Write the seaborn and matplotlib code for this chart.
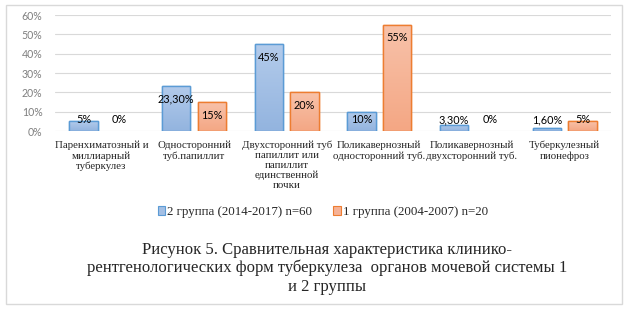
import matplotlib
matplotlib.use("Agg")
import matplotlib.pyplot as plt
import matplotlib.patches as mpatches
from matplotlib.colors import to_rgb
from matplotlib.ticker import FuncFormatter
import numpy as np
import pandas as pd
import seaborn as sns

# данные
categories = ["Паренхиматозный и\nмиллиарный\nтуберкулез",
              "Односторонний\nтуб.папиллит",
              "Двухсторонний туб\nпапиллит или\nпапиллит\nединственной\nпочки",
              "Поликавернозный\nодносторонний туб.",
              "Поликавернозный\nдвухсторонний туб.",
              "Туберкулезный\nпионефроз"]
group2 = [5, 23.3, 45, 10, 3.3, 1.6]
group1 = [0, 15, 20, 55, 0, 5]
series = ["2 группа (2014-2017) n=60", "1 группа (2004-2007) n=20"]
caption = ["Рисунок 5. Сравнительная характеристика клинико-",
           "рентгенологических форм туберкулеза  органов мочевой системы 1",
           "и 2 группы"]

df = pd.DataFrame({
    "cat": categories * 2,
    "val": group2 + group1,
    "grp": [series[0]] * len(group2) + [series[1]] * len(group1),
})

sns.set_style("white")
plt.rcParams["font.family"] = ["Liberation Serif", "DejaVu Serif"]

blue_fill, blue_edge = "#a3bfe4", "#5b9bd5"
orange_fill, orange_edge = "#f6b296", "#ed7d31"
# градиент сверху вниз
grads = [("#b3cbeb", "#93b4df"), ("#f8c2aa", "#f4a784")]

fig = plt.figure(figsize=(6.28, 3.09), dpi=100)
ax = fig.add_axes([55 / 628, 1 - 131 / 309, 556 / 628, 116 / 309])

sns.barplot(data=df, x="cat", y="val", hue="grp", hue_order=series,
            palette=[blue_fill, orange_fill], width=0.77, gap=0.2,
            ax=ax, legend=False, saturation=1)

edges = [blue_edge, orange_edge]
for cont, edge, vals, (c_top, c_bot) in zip(ax.containers, edges, [group2, group1], grads):
    t, b = np.array(to_rgb(c_top)), np.array(to_rgb(c_bot))
    img = np.linspace(t, b, 64).reshape(64, 1, 3)
    for bar, v in zip(cont, vals):
        bar.set_edgecolor(edge)
        bar.set_linewidth(1.0 if v > 0 else 0)
        if v > 0:
            x0, w = bar.get_x(), bar.get_width()
            im = ax.imshow(img, extent=[x0, x0 + w, 0, v], aspect="auto",
                           zorder=bar.get_zorder() + 0.1, interpolation="bilinear")
            im.set_clip_path(bar)
            ax.add_patch(mpatches.Rectangle((x0, 0), w, v, fill=False,
                                            edgecolor=edge, lw=1.0,
                                            zorder=bar.get_zorder() + 0.2))
        if float(v).is_integer():
            lab = "%d%%" % v
        else:
            lab = ("%.2f%%" % v).replace(".", ",")
        y = max(v - 6.8, 5.7)
        ax.text(bar.get_x() + bar.get_width() / 2, y, lab, ha="center",
                va="center", fontsize=7.8, family=["Lato", "DejaVu Sans"],
                color="#000000", zorder=5)

ax.set_ylim(0, 60)
ax.set_xlim(-0.5, 5.5)
ax.set_yticks(range(0, 61, 10))
ax.yaxis.set_major_formatter(FuncFormatter(lambda x, p: "%d%%" % x))
ax.grid(axis="y", color="#d9d9d9", lw=0.8)
ax.set_axisbelow(True)
for s in ax.spines.values():
    s.set_visible(False)
ax.tick_params(axis="y", length=0, pad=9, labelsize=7.6, labelcolor="#7f7f7f")
for t in ax.get_yticklabels():
    t.set_family(["Lato", "DejaVu Sans"])
ax.tick_params(axis="x", length=0, pad=7)
ax.set_xticks(range(len(categories)))
ax.set_xticklabels(categories, fontsize=7.8, linespacing=1.12, va="top")
ax.set_xlabel("")
ax.set_ylabel("")

handles = [mpatches.Patch(facecolor=blue_fill, edgecolor=blue_edge, lw=0.8),
           mpatches.Patch(facecolor=orange_fill, edgecolor=orange_edge, lw=0.8)]
fig.legend(handles, series, loc="center", bbox_to_anchor=(0.514, 1 - 212 / 309),
           ncol=2, frameon=False, fontsize=9.3, handlelength=0.6, handleheight=0.6,
           handletextpad=0.15, columnspacing=1.6, borderaxespad=0)

for line, yp in zip(caption, [250, 268, 287]):
    fig.text(0.521, 1 - yp / 309, line, ha="center", va="center", fontsize=12)

frame = mpatches.Rectangle((6 / 628, 5 / 309), 616 / 628, 299 / 309,
                           transform=fig.transFigure, fill=False,
                           edgecolor="#d9d9d9", lw=1)
fig.patches.append(frame)

fig.savefig("out.png", dpi=100)
